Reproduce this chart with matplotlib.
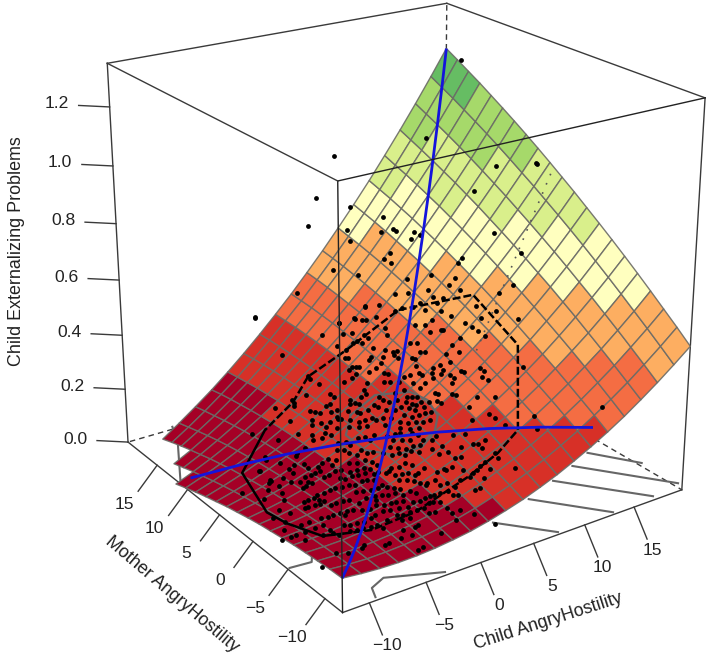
import numpy as np
import matplotlib
matplotlib.use("Agg")
import matplotlib.pyplot as plt
from matplotlib.collections import PolyCollection

plt.rcParams['font.family'] = ['Liberation Sans', 'DejaVu Sans']

# axis ranges
lo = -12.3
hi = 20.0
z_top = 1.345

child_ticks = [-10, -5, 0, 5, 10, 15]
mother_ticks = [-10, -5, 0, 5, 10, 15]
z_ticks = [0.0, 0.2, 0.4, 0.6, 0.8, 1.0, 1.2]

# surface heights (thousandths), row = mother from low to high, col = child from low to high
surface_z = [
    [116,109,104,102,103,107,114,123,136,152,170,192,216,244,274,307,343,383,425,470,517],
    [114,108,105,106,109,115,124,136,151,169,190,213,240,270,302,338,376,417,462,509,559],
    [110,107,106,109,114,123,134,148,165,185,208,234,263,295,329,367,408,451,498,547,599],
    [106,105,106,111,119,129,143,159,178,201,226,254,285,319,356,396,439,484,533,584,639],
    [101,102,106,112,122,135,151,169,191,215,243,273,306,342,381,424,469,516,567,621,678],
    [94,98,104,113,125,140,158,178,202,229,258,291,326,365,406,450,498,548,601,657,716],
    [87,93,101,112,127,144,164,187,213,242,273,308,346,386,430,476,526,578,633,692,753],
    [80,87,98,111,128,147,169,194,223,254,288,325,364,407,453,502,553,608,665,726,789],
    [71,81,93,109,128,149,174,201,231,265,301,340,382,427,475,526,580,636,696,759,824],
    [61,73,88,106,127,151,177,207,239,275,313,355,399,446,496,549,605,664,726,791,859],
    [51,65,82,102,125,151,180,212,247,284,325,368,415,464,517,572,630,691,755,822,892],
    [39,56,75,97,123,151,182,216,253,293,336,381,430,482,536,593,654,717,783,853,925],
    [27,46,67,92,119,150,183,219,258,300,345,393,444,498,555,614,677,742,811,882,957],
    [14,35,59,85,115,148,183,221,263,307,354,404,457,513,572,634,699,767,837,911,988],
    [0,23,49,78,110,145,182,223,266,313,362,415,470,528,589,653,720,790,863,939,1018],
    [-15,11,39,70,104,141,181,223,269,318,369,424,481,542,605,671,741,813,888,966,1047],
    [-30,-3,27,61,97,136,178,223,271,322,376,432,492,555,620,689,760,834,912,992,1075],
    [-47,-17,15,51,89,130,175,222,272,325,381,440,502,567,635,705,779,855,935,1017,1103],
    [-64,-33,2,40,80,124,170,220,272,328,386,447,511,578,648,721,797,875,957,1042,1129],
    [-83,-49,-12,28,71,117,165,217,272,329,389,453,519,588,660,735,813,894,978,1065,1155],
    [-102,-66,-27,16,61,108,159,213,270,330,392,458,526,598,672,749,830,913,999,1088,1180],
]

# incongruence line heights (thousandths), child from -11.3 to 11.3, mother = -child
incong_span = 11.3
incong_z = [6,69,126,175,217,251,279,299,313]

# observations, child and mother in tenths, problems in thousandths
pt_child = [-27,2,28,41,28,37,41,50,60,52,53,59,45,45,40,39,36,42,37,34,30,25,26,23,25,26,20,21,17,12,28,33,21,0,-1,-0,-12,-1,-1,-7,-10,-11,-7,-19,-18,
    -16,-21,-23,-20,-32,-34,-24,-22,-17,-11,-12,-11,-27,2,5,6,11,15,16,19,-3,1,1,7,12,-7,-4,-0,5,4,-12,-7,-3,4,-22,-18,13,74,80,84,83,90,92,92,
    108,115,82,76,72,70,57,55,75,81,82,95,97,105,98,86,99,79,79,72,63,61,64,61,51,49,48,48,46,42,54,55,59,64,70,56,63,60,52,50,45,50,54,64,64,61,
    71,72,81,82,80,78,41,34,35,29,32,36,38,48,43,42,47,48,55,57,45,44,66,75,57,64,65,52,67,34,28,32,34,37,25,29,31,32,36,40,24,27,29,35,19,21,15,
    19,21,24,28,32,36,9,13,15,18,23,27,31,6,16,21,12,-39,-51,-68,-70,-52,-54,-45,-80,-66,-61,-66,-56,-67,-74,-82,-83,-85,-83,-75,-91,-87,-99,-91,
    -70,-57,-51,-47,-57,-64,-60,-53,-66,-65,-70,-73,-55,-51,-46,-41,-43,-38,-28,-28,-25,-20,-19,-15,-31,-27,-22,-22,-14,-10,-10,-5,-26,-25,-36,
    -33,-31,-34,-30,-24,-22,-42,-39,-34,-30,-27,-21,-48,-46,-41,-37,-32,-28,-25,-53,-48,-45,-39,-36,-32,-61,-57,-66,-71,-74,-75,-79,-83,-79,-76,
    -72,-71,-67,-62,-58,-49,-45,-40,-35,-48,-42,-101,-98,-87,-84,-86,-81,-77,-72,-67,-63,-58,-55,-111,-108,-95,-97,-102,-91,-98,-79,-75,-70,-65,
    -59,-54,-80,-75,-70,-65,-60,-105,-113,-117,-115,-112,-105,-98,-86,-82,-71,-90,-89,-90,-47,-53,-44,1,6,9,15,17,25,34,41,2,6,10,17,21,23,32,
    -4,-1,3,8,12,40,43,49,43,-11,-8,-3,-1,4,8,16,17,23,27,23,47,46,37,32,28,25,21,36,28,21,17,12,11,6,1,-5,-3,-6,-11,-16,-22,-19,-18,-14,-10,-8,
    -19,-15,-12,-10,-6,0,-0,5,14,7,20,16,-31,-30,-27,-24,-20,-18,-8,-12,-9,-5,1,1,4,-38,-34,-29,-26,-43,-38,-34,-30,-25,-21,-17,-14,-10,-10,-4,-10,
    2,-12,9,-48,-43,-42,-39,-33,-28,-23,-23,-19,-51,-43,-37,-37,-40,-49,-59,-56,-47,-29,-66,-70,-49,-54,-37,-31,-16,51,33,25,-27,179,149,168,
    156,138,141,108,107,107,101,114,115,110,148,152,123,119,95,90,91,72,102,90,111,105,94,108,78,84,135,125,93,97,122,59,66,66,89,85,65,41,
    50,41,-125,-126,-57,-105,-81,127,86,82,103,50]
pt_mother = [150,158,136,130,113,117,111,119,119,112,108,101,98,92,94,100,101,81,76,75,102,97,94,84,81,78,84,74,75,78,66,63,59,114,110,98,99,80,74,71,72,
    63,60,81,75,71,102,99,107,115,88,71,61,55,54,51,48,66,55,52,48,53,51,56,39,50,43,39,36,36,41,33,30,22,27,36,28,24,58,53,43,31,86,78,75,66,
    53,42,62,31,13,55,56,64,90,86,80,48,41,39,28,21,20,14,22,6,23,14,22,38,42,50,56,60,62,59,54,70,66,43,40,21,18,13,18,13,11,34,28,33,24,14,5,0,
    -2,-0,-3,-11,-16,-24,-18,36,53,50,47,42,36,63,16,16,24,2,-1,-10,-13,-9,-5,-28,-39,-30,-47,-53,-40,-63,26,30,19,15,12,23,16,10,6,5,0,15,9,3,
    0,33,28,23,17,7,0,-3,-6,-9,18,13,4,-3,-7,-11,-14,12,-8,-14,-1,68,80,72,67,50,47,49,60,52,40,39,33,31,24,41,38,38,27,34,30,16,22,6,17,26,20,21,
    16,19,16,14,11,7,8,7,6,4,4,21,13,14,19,12,5,6,-0,-3,24,29,25,19,19,16,9,11,48,41,51,57,46,2,-3,-5,-11,1,-6,-9,-12,-16,-17,-6,-10,-12,-15,-17,
    -23,-24,-16,-18,-22,-23,-25,-29,-12,-13,-12,-9,-16,-11,-9,-9,-19,-21,-21,-29,-30,-32,-34,-30,-33,-37,-39,-42,-45,-3,-14,-17,-17,-38,-40,-41,
    -43,-45,-47,-51,-43,-10,-22,-35,-47,-35,-62,-59,-58,-61,-63,-65,-65,-63,-68,-70,-71,-73,-74,-46,-46,-46,-33,-57,-88,-93,-93,-90,-48,-57,-67,
    -47,-54,-54,-49,2,-2,-5,-13,-18,-30,-40,-46,-6,-12,-17,-25,-31,-41,-53,-10,-16,-21,-24,-27,-58,-61,-62,-66,-11,-18,-21,-26,-27,-32,-38,-45,
    -49,-61,-58,-77,-82,-77,-78,-79,-79,-80,-85,-89,-71,-63,-62,-60,-58,-48,-49,-38,-33,-32,-29,-30,-30,-37,-40,-43,-49,-44,-48,-53,-58,-62,-64,
    -71,-73,-77,-80,-94,-93,-38,-43,-48,-52,-60,-65,-63,-75,-76,-77,-80,-86,-88,-48,-51,-53,-59,-58,-60,-62,-65,-71,-74,-80,-81,-84,-93,-101,-100,
    -111,-107,-128,-64,-66,-74,-78,-78,-80,-82,-89,-90,-74,-82,-84,-94,-94,-92,-81,-99,-101,-112,-99,-99,-117,-118,-69,-73,-74,150,150,150,150,
    150,158,85,99,-4,-2,163,147,142,155,126,119,124,60,29,70,70,133,135,126,148,84,102,64,64,77,52,101,92,17,22,69,60,-6,118,108,150,190,179,
    175,194,120,130,-46,-101,109,46,60,-106,-74,-84,-38,-98]
pt_problems = [442,259,341,383,335,365,373,406,441,410,412,430,382,378,362,361,355,362,344,336,336,318,321,309,312,313,299,300,288,276,314,326,291,252,247,
    248,218,242,242,227,220,216,223,199,202,205,194,191,198,168,166,187,192,200,213,212,213,180,243,248,249,263,273,277,276,230,236,236,247,259,
    218,222,229,237,236,207,216,221,249,190,197,259,468,480,493,481,491,486,504,524,523,464,449,442,458,412,399,438,449,451,478,473,498,470,443,
    460,424,414,401,393,390,404,401,373,371,365,361,368,353,371,371,364,375,388,354,367,358,358,347,337,345,345,361,357,347,376,376,391,387,371,
    375,329,323,324,306,311,317,339,331,318,324,318,318,325,327,302,304,333,339,309,306,300,287,291,305,293,295,298,301,283,285,286,286,295,299,
    274,276,277,287,274,275,259,265,261,263,270,277,283,244,249,249,251,258,261,268,234,243,249,238,157,131,103,101,134,132,146,87,112,121,113,
    129,114,106,91,92,89,95,103,86,94,80,93,112,129,138,143,129,120,126,134,118,119,114,111,132,137,144,153,148,157,173,172,175,184,183,189,168,
    178,184,183,198,204,203,212,180,183,163,168,171,161,165,174,175,149,152,158,163,166,174,140,143,148,153,158,162,167,133,138,141,148,152,155,
    125,129,120,114,112,111,107,103,108,111,115,116,119,123,127,136,140,144,148,134,139,89,94,102,104,106,109,111,114,118,121,124,127,85,91,100,
    102,97,106,104,110,112,114,117,121,124,109,111,113,115,118,99,97,97,93,101,106,106,107,107,115,106,106,105,132,127,136,219,227,231,236,237,
    244,253,260,216,221,225,232,236,231,236,205,207,210,217,222,246,249,257,242,192,194,200,201,209,212,221,217,224,221,216,238,230,221,212,205,
    199,193,212,195,202,203,197,196,190,190,181,190,189,182,177,168,171,170,175,178,178,166,169,169,169,171,178,173,177,186,175,179,175,153,153,
    154,156,156,156,169,156,159,163,167,164,165,143,145,149,150,134,138,141,143,146,148,148,151,152,146,146,141,143,134,133,129,132,129,131,135,
    138,141,137,140,123,126,129,124,123,118,117,113,116,119,109,108,108,106,135,140,153,954,819,726,440,1203,932,902,804,1043,1036,668,646,644,630,
    656,653,637,709,675,628,613,585,566,562,505,566,537,574,555,529,550,495,506,593,567,516,522,517,440,456,758,602,578,492,402,407,382,96,114,
    110,63,87,357,318,294,414,219]

# outer hull on the surface (tenths, tenths, thousandths), first 6 segments solid
hull_child = [-50,-89,-109,-108,-99,-86,-67,-30,20,49,71,111,112,72,30,0,-21,-50]
hull_mother = [101,72,2,-25,-60,-67,-77,-81,-79,-78,-74,-21,40,88,102,114,104,101]
hull_z = [129,69,81,92,103,107,114,136,192,239,287,459,547,461,336,250,195,129]

# inner bag
bag_child = [-4,18,36,40,37,27,12,-6,-18,-18,-4]
bag_mother = [45,43,20,2,-16,-26,-30,-20,4,31,45]
bag_z = [226,277,306,302,280,250,220,196,186,193,226]

# dotted line on the surface
dots_child = [158,85]
dots_mother = [2,1]
dots_z = [983,416]

# contour pieces on the floor (tenths)
floor_child = [[44,76],[90,131],[125,174],[154,205],[179,204],[-92,-87,-72,-30],[-121,-103,-99],[-79,-90,-120]]
floor_mother = [[-80,-120],[-66,-120],[-53,-118],[-42,-113],[-31,-70],[-119,-107,-100,-119],[-49,-51,-45],[204,175,117]]

band_limits = [0.16, 0.31, 0.46, 0.61, 0.76, 0.91, 1.06]
band_colors = ['#A50026', '#D73027', '#F46D43', '#FDAE61', '#FFFFBF', '#D9EF8B', '#A6D96A', '#66BD63']

# perspective view of the box
view = np.array([[11.741895, -5.40104, -22.26902, 387.071585],
                 [-1.801924, -2.718287, -299.719199, 497.099067],
                 [0.003322, 0.004624, -0.056354, 1.0]])


def project(x, y, z):
    x, y, z = np.asarray(x, float), np.asarray(y, float), np.asarray(z, float)
    w = view[2, 0] * x + view[2, 1] * y + view[2, 2] * z + view[2, 3]
    u = (view[0, 0] * x + view[0, 1] * y + view[0, 2] * z + view[0, 3]) / w
    v = (view[1, 0] * x + view[1, 1] * y + view[1, 2] * z + view[1, 3]) / w
    return u, v


fig = plt.figure(figsize=(7.09, 6.59), dpi=100)
ax = fig.add_axes([0, 0, 1, 1])
ax.set_xlim(0, 709)
ax.set_ylim(659, 0)
ax.axis('off')


def edge(a, b, **kw):
    u, v = project(*zip(a, b))
    style = dict(color='#3a3a3a', lw=1.0)
    style.update(kw)
    ax.plot(u, v, **style)


# hidden edges
edge((hi, hi, 0), (lo, hi, 0), ls=(0, (4, 3)), zorder=1)
edge((hi, hi, 0), (hi, lo, 0), ls=(0, (4, 3)), zorder=1)
edge((hi, hi, 0), (hi, hi, z_top), ls=(0, (4, 3)), zorder=1)
# back and bottom edges
edge((lo, hi, z_top), (hi, hi, z_top), zorder=1)
edge((hi, hi, z_top), (hi, lo, z_top), zorder=1)
edge((lo, hi, 0), (lo, hi, z_top), zorder=1)
edge((hi, lo, 0), (hi, lo, z_top), zorder=1)
edge((lo, lo, 0), (lo, hi, 0), zorder=1)
edge((lo, lo, 0), (hi, lo, 0), zorder=1)

# floor contours
for cx, cy in zip(floor_child, floor_mother):
    u, v = project(np.array(cx) / 10, np.array(cy) / 10, np.zeros(len(cx)))
    ax.plot(u, v, color='#666666', lw=1.5, zorder=2)

# surface
grid = np.linspace(lo, hi, 21)
heights = np.array(surface_z) / 1000
polys = []
faces = []
for j in range(19, -1, -1):
    for i in range(20):
        zc = [heights[j, i], heights[j, i + 1], heights[j + 1, i + 1], heights[j + 1, i]]
        # cells below the floor are left out
        if np.mean(zc) < 0:
            continue
        u, v = project([grid[i], grid[i + 1], grid[i + 1], grid[i]],
                       [grid[j], grid[j], grid[j + 1], grid[j + 1]], zc)
        polys.append(np.column_stack([u, v]))
        faces.append(band_colors[np.searchsorted(band_limits, np.mean(zc))])
ax.add_collection(PolyCollection(polys, facecolors=faces, edgecolors=(0.42, 0.42, 0.40, 0.9),
                                 linewidths=1.0, zorder=3))

# bag and hull
u, v = project(np.array(bag_child) / 10, np.array(bag_mother) / 10, np.array(bag_z) / 1000)
ax.plot(u, v, color='#666666', lw=1.6, zorder=4)
u, v = project(np.array(hull_child) / 10, np.array(hull_mother) / 10, np.array(hull_z) / 1000)
ax.plot(u[:6], v[:6], color='black', lw=1.8, zorder=5)
ax.plot(u[5:], v[5:], color='black', lw=1.8, ls=(0, (3.2, 1.2)), zorder=5)
u, v = project(np.array(dots_child) / 10, np.array(dots_mother) / 10, np.array(dots_z) / 1000)
ax.plot(u, v, color='#555555', lw=1.2, ls=(0, (1, 5)), zorder=5)

# points
u, v = project(np.array(pt_child) / 10, np.array(pt_mother) / 10, np.array(pt_problems) / 1000)
ax.scatter(u, v, s=12, color='black', linewidths=0, zorder=6)

# congruence and incongruence lines
u, v = project(grid, grid, heights.diagonal())
ax.plot(u, v, color='#1414dc', lw=2.0, zorder=7, solid_capstyle='butt')
anti = np.linspace(-incong_span, incong_span, len(incong_z))
u, v = project(anti, -anti, np.array(incong_z) / 1000)
ax.plot(u, v, color='#1414dc', lw=2.0, zorder=7, solid_capstyle='butt')

# front edges over the surface
edge((lo, lo, 0), (lo, lo, z_top), color='#222222', zorder=8)
edge((lo, lo, z_top), (hi, lo, z_top), color='#222222', zorder=8)
edge((lo, lo, z_top), (lo, hi, z_top), zorder=8)

# ticks and tick labels
tick_color = '#3a3a3a'
label_size = 12.6
for t in z_ticks:
    u, v = project(lo, hi, t)
    ax.plot([u, u - 31], [v, v - 1.5], color=tick_color, lw=1.0)
    ax.text(u - 53, v - 3, f'{t:.1f}', ha='center', va='center', fontsize=label_size, color='#222222')
for t in mother_ticks:
    u, v = project(lo, t, 0)
    ax.plot([u, u - 19], [v, v + 26], color=tick_color, lw=1.0)
    ax.text(u - 33, v + 39, str(t).replace('-', '\u2212'), ha='center', va='center', fontsize=label_size, color='#222222')
for t in child_ticks:
    u, v = project(t, lo, 0)
    ax.plot([u, u + 13], [v, v + 32], color=tick_color, lw=1.0)
    ax.text(u + 18, v + 43, str(t).replace('-', '\u2212'), ha='center', va='center', fontsize=label_size, color='#222222')

# axis titles
title_size = 12.9
ax.text(17, 251, 'Child Externalizing Problems', rotation=90, ha='center', va='center',
        fontsize=title_size, color='#222222')
ax.text(172, 594, 'Mother AngryHostility', rotation=-40.4, ha='center', va='center',
        rotation_mode='anchor', fontsize=title_size, color='#222222')
ax.text(548, 621, 'Child AngryHostility', rotation=17.7, ha='center', va='center',
        rotation_mode='anchor', fontsize=title_size, color='#222222')

fig.savefig('out.png', dpi=100)
